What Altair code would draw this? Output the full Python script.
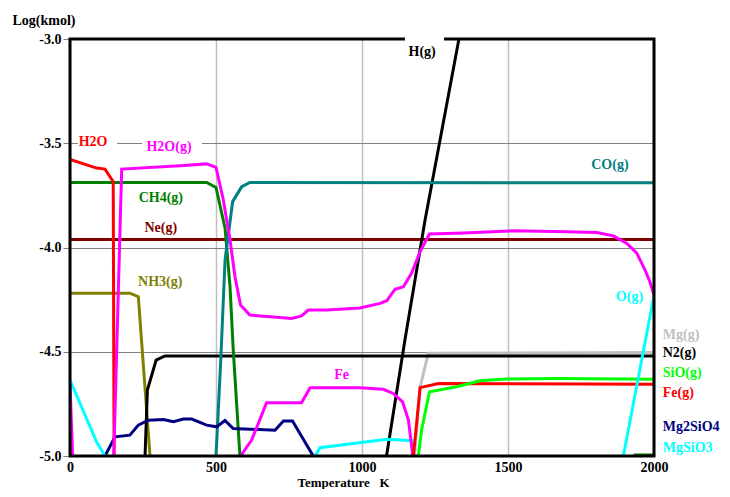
import altair as alt
import pandas as pd

# ---------------- data ----------------
H2O_T = [0, 91, 120, 148, 151]
H2O_Y = [-3.577, -3.619, -3.624, -3.684, -5.0]

H2OG_T = [150, 177, 377, 468, 500, 525, 548, 565, 584, 616, 708, 759, 793, 816, 879, 993,
          1062, 1085, 1113, 1142, 1170, 1199, 1231, 1347, 1518, 1701, 1804, 1861, 1906, 1941,
          1969, 1986, 2000]
H2OG_Y = [-5.0, -3.624, -3.608, -3.599, -3.616, -3.771, -3.963, -4.14, -4.276, -4.324, -4.335,
          -4.34, -4.328, -4.30, -4.30, -4.29, -4.268, -4.255, -4.20, -4.188, -4.123, -4.02,
          -3.935, -3.931, -3.92, -3.924, -3.928, -3.944, -3.979, -4.027, -4.107, -4.164, -4.228]

CH4_T = [0, 468, 500, 531, 548, 559, 582]
CH4_Y = [-3.688, -3.688, -3.712, -3.907, -4.188, -4.49, -5.0]

NE_T = [0, 2000]
NE_Y = [-3.962, -3.962]

NH3_T = [0, 205, 234, 274]
NH3_Y = [-4.219, -4.219, -4.236, -5.0]

N2_T = [257, 265, 295, 325, 2000]
N2_Y = [-5.0, -4.684, -4.54, -4.52, -4.52]

CO_T = [500, 516, 531, 557, 588, 616, 2000]
CO_Y = [-5.0, -4.55, -4.06, -3.78, -3.708, -3.688, -3.69]

H_T = [1084, 1147, 1216, 1332]
H_Y = [-5.0, -4.444, -3.868, -3.0]

MG_T = [1180, 1199, 1227, 2000]
MG_Y = [-5.0, -4.67, -4.507, -4.503]

FEG_T = [1176, 1199, 1262, 2000]
FEG_Y = [-5.0, -4.672, -4.652, -4.656]

SIO_T = [1193, 1204, 1231, 1324, 1404, 1495, 1678, 2000]
SIO_Y = [-5.0, -4.876, -4.692, -4.668, -4.639, -4.631, -4.628, -4.632]

FE_A_T = [0, 9]
FE_A_Y = [-4.653, -5.0]
FE_B_T = [584, 622, 673, 793, 822, 993, 1073, 1107, 1139, 1159, 1174]
FE_B_Y = [-5.0, -4.924, -4.745, -4.745, -4.673, -4.673, -4.68, -4.70, -4.74, -4.828, -5.0]

MG2SIO4_T = [120, 154, 205, 234, 268, 320, 354, 388, 417, 468, 502, 531, 559, 702, 731, 762, 833]
MG2SIO4_Y = [-5.0, -4.908, -4.90, -4.852, -4.828, -4.825, -4.836, -4.823, -4.823, -4.852,
             -4.86, -4.83, -4.868, -4.876, -4.832, -4.832, -5.0]

MGSIO3_A_T = [0, 91, 120]
MGSIO3_A_Y = [-4.636, -4.932, -5.0]
MGSIO3_B_T = [839, 856, 1085, 1170, 1175]
MGSIO3_B_Y = [-5.0, -4.96, -4.92, -4.927, -5.0]

OG_T = [1895, 2000]
OG_Y = [-5.0, -4.23]

DKG_T = [1930, 2000]
DKG_Y = [-4.995, -4.995]

# labels inside the plot (centred)
IN_LABELS = ["H2O", "H2O(g)", "CH4(g)", "Ne(g)", "NH3(g)", "CO(g)", "O(g)", "H(g)", "Fe"]
IN_T = [79, 339, 311, 311, 309, 1849, 1916, 1206, 930]
IN_Y = [-3.493, -3.516, -3.763, -3.907, -4.164, -3.603, -4.236, -3.064, -4.612]
IN_COL = ["#ff0000", "#ff00ff", "#008000", "#800000", "#808000", "#008080", "#00ffff",
          "#000000", "#ff00ff"]

# labels right of the plot (left aligned)
OUT_LABELS = ["Mg(g)", "N2(g)", "SiO(g)", "Fe(g)", "Mg2SiO4", "MgSiO3"]
OUT_T = [2030, 2030, 2030, 2030, 2030, 2030]
OUT_Y = [-4.42, -4.507, -4.60, -4.70, -4.863, -4.963]
OUT_COL = ["#c0c0c0", "#000000", "#00ff00", "#ff0000", "#000080", "#00ffff"]

# white boxes behind some labels
BOX_T0 = [27, 247, 1147]
BOX_T1 = [161, 452, 1281]
BOX_Y0 = [-3.45, -3.45, -2.985]
BOX_Y1 = [-3.53, -3.53, -3.10]

SERIES = [
    ("Mg(g)", "#c0c0c0", MG_T, MG_Y),
    ("Ne(g)", "#800000", NE_T, NE_Y),
    ("NH3(g)", "#808000", NH3_T, NH3_Y),
    ("N2(g)", "#000000", N2_T, N2_Y),
    ("H(g)", "#000000", H_T, H_Y),
    ("CH4(g)", "#008000", CH4_T, CH4_Y),
    ("CO(g)", "#008080", CO_T, CO_Y),
    ("Mg2SiO4", "#000080", MG2SIO4_T, MG2SIO4_Y),
    ("MgSiO3a", "#00ffff", MGSIO3_A_T, MGSIO3_A_Y),
    ("MgSiO3b", "#00ffff", MGSIO3_B_T, MGSIO3_B_Y),
    ("Fe_a", "#ff00ff", FE_A_T, FE_A_Y),
    ("Fe_b", "#ff00ff", FE_B_T, FE_B_Y),
    ("H2O", "#ff0000", H2O_T, H2O_Y),
    ("H2O(g)", "#ff00ff", H2OG_T, H2OG_Y),
    ("Fe(g)", "#ff0000", FEG_T, FEG_Y),
    ("SiO(g)", "#00ff00", SIO_T, SIO_Y),
    ("O(g)", "#00ffff", OG_T, OG_Y),
    ("dkgreen", "#008000", DKG_T, DKG_Y),
]

rows = []
for k, (name, col, ts, ys) in enumerate(SERIES):
    for i, (t, y) in enumerate(zip(ts, ys)):
        rows.append({"series": f"{k:02d}_{name}", "color": col, "T": t, "y": y, "i": i})
lines_df = pd.DataFrame(rows)

in_df = pd.DataFrame({"label": IN_LABELS, "T": IN_T, "y": IN_Y, "color": IN_COL})
out_df = pd.DataFrame({"label": OUT_LABELS, "T": OUT_T, "y": OUT_Y, "color": OUT_COL})
box_df = pd.DataFrame({"t0": BOX_T0, "t1": BOX_T1, "y0": BOX_Y0, "y1": BOX_Y1})
frame_df = pd.DataFrame({"f": [0]})

FONT = "Liberation Serif"

xscale = alt.Scale(domain=[0, 2000], nice=False, zero=False)
yscale = alt.Scale(domain=[-5, -3], nice=False, zero=False)

xaxis = alt.Axis(
    values=[0, 500, 1000, 1500, 2000], format="d", title="Temperature\u00a0\u00a0\u00a0K",
    grid=True, gridColor="#c0c0c0", gridWidth=1.5, ticks=False, tickSize=0, domain=False,
    labelFont=FONT, labelFontWeight="bold", labelFontSize=14, labelColor="black",
    labelBaseline="alphabetic", labelPadding=15, labelFlush=False,
    titleFont=FONT, titleFontWeight="bold", titleFontSize=13, titleColor="black",
    titleAlign="left", titleBaseline="alphabetic", titleX=227, titleY=30,
)
yaxis = alt.Axis(
    values=[-5, -4.5, -4, -3.5, -3], title="Log(kmol)",
    labelExpr="(datum.value < 0 ? '-' : '') + format(abs(datum.value), '.1f')",
    grid=True, gridColor="#808080", gridWidth=1, ticks=True, tickColor="#808080", tickSize=7,
    domain=False, labelFont=FONT, labelFontWeight="bold", labelFontSize=14,
    labelColor="black", labelPadding=2, labelBaseline="middle", labelFlush=False,
    titleFont=FONT, titleFontWeight="bold", titleFontSize=14, titleColor="black",
    titleAngle=0, titleAlign="left", titleBaseline="middle", titleX=-58, titleY=-19,
)

frame = alt.Chart(frame_df).mark_rect(
    fillOpacity=0, stroke="black", strokeWidth=3
).encode(
    x=alt.value(0), x2=alt.value("width"), y=alt.value(0), y2=alt.value("height")
)

lines = alt.Chart(lines_df).mark_line(strokeWidth=3, clip=True).encode(
    x=alt.X("T:Q", scale=xscale, axis=xaxis),
    y=alt.Y("y:Q", scale=yscale, axis=yaxis),
    color=alt.Color("color:N", scale=None),
    detail="series:N",
    order="i:Q",
)

boxes = alt.Chart(box_df).mark_rect(color="white").encode(
    x="t0:Q", x2="t1:Q", y="y0:Q", y2="y1:Q"
)

in_text = alt.Chart(in_df).mark_text(
    font=FONT, fontWeight="bold", fontSize=14, align="center", baseline="middle"
).encode(x="T:Q", y="y:Q", text="label:N", color=alt.Color("color:N", scale=None))

out_text = alt.Chart(out_df).mark_text(
    font=FONT, fontWeight="bold", fontSize=14, align="left", baseline="middle"
).encode(x="T:Q", y="y:Q", text="label:N", color=alt.Color("color:N", scale=None))

chart = alt.layer(lines, frame, boxes, in_text, out_text).properties(
    width=584, height=417,
    autosize=alt.AutoSizeParams(type="none"),
    padding={"left": 62, "top": 31, "right": 68, "bottom": 33},
    background="white",
).configure_view(strokeWidth=0)

chart.save("out.html", embed_options={"renderer": "svg", "actions": False})
